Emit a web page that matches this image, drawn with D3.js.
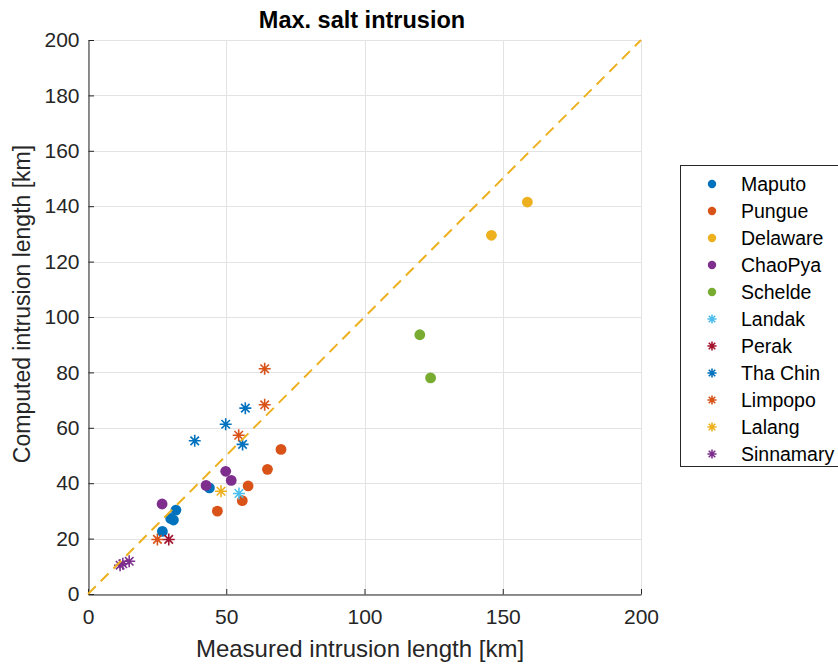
<!DOCTYPE html>
<html>
<head>
<meta charset="utf-8">
<script src="https://cdn.jsdelivr.net/npm/d3@7/dist/d3.min.js"></script>
<style>
  html, body { margin: 0; padding: 0; background: #fff; }
  svg { display: block; font-family: "Liberation Sans", Arial, Helvetica, sans-serif; }
</style>
</head>
<body>
<svg id="chart" width="838" height="664"></svg>
<script>
// Estuaries and their marker style
const estuaries = ["Maputo", "Pungue", "Delaware", "ChaoPya", "Schelde",
                   "Landak", "Perak", "Tha Chin", "Limpopo", "Lalang", "Sinnamary"];
const markers = ["dot", "dot", "dot", "dot", "dot",
                 "star", "star", "star", "star", "star", "star"];
const colors = ["#0072BD", "#D95319", "#EDB120", "#7E2F8E", "#77AC30",
                "#4DBEEE", "#A2142F", "#0072BD", "#D95319", "#EDB120", "#7E2F8E"];

// Measured vs computed maximum salt intrusion length [km]
const measured = [
  [43.9, 31.8, 29.9, 30.9, 26.9],     // Maputo
  [69.8, 64.9, 57.9, 55.8, 46.8],     // Pungue
  [145.9, 158.9],                     // Delaware
  [49.8, 51.8, 42.7, 26.8],           // ChaoPya
  [120.0, 123.9],                     // Schelde
  [54.6],                             // Landak
  [29.2],                             // Perak
  [38.6, 49.8, 56.9, 55.9],           // Tha Chin
  [63.9, 63.9, 54.5, 25.1],           // Limpopo
  [48.1],                             // Lalang
  [11.6, 12.6, 14.9]                  // Sinnamary
];
const computed = [
  [38.3, 30.3, 27.3, 26.7, 22.6],
  [52.2, 45.0, 39.0, 33.7, 29.9],
  [129.5, 141.5],
  [44.3, 41.0, 39.2, 32.5],
  [93.6, 78.0],
  [36.3],
  [19.7],
  [55.3, 61.3, 67.1, 54.0],
  [81.3, 68.3, 57.3, 19.7],
  [37.1],
  [10.4, 10.9, 11.8]
];

const xTicks = [0, 50, 100, 150, 200];
const yTicks = [0, 20, 40, 60, 80, 100, 120, 140, 160, 180, 200];
const domain = [0, 200];

const svg = d3.select("#chart");
const plot = { left: 88, right: 641, top: 40, bottom: 594 };

const x = d3.scaleLinear().domain(domain).range([plot.left, plot.right]);
const y = d3.scaleLinear().domain(domain).range([plot.bottom, plot.top]);

const axisColor = "#262626";
const gridColor = "#e3e3e3";

// Grid
const grid = svg.append("g");
grid.selectAll("line.vx").data(xTicks).join("line")
  .attr("x1", d => Math.round(x(d)) + 0.5).attr("x2", d => Math.round(x(d)) + 0.5)
  .attr("y1", plot.top).attr("y2", plot.bottom)
  .attr("stroke", gridColor).attr("stroke-width", 1);
grid.selectAll("line.hy").data(yTicks).join("line")
  .attr("y1", d => Math.round(y(d)) + 0.5).attr("y2", d => Math.round(y(d)) + 0.5)
  .attr("x1", plot.left).attr("x2", plot.right)
  .attr("stroke", gridColor).attr("stroke-width", 1);

// Axes with inward ticks
const xAxis = svg.append("g")
  .attr("transform", `translate(0,${plot.bottom + 0.5})`)
  .call(d3.axisBottom(x).tickValues(xTicks).tickSize(-5.5).tickSizeOuter(0).tickPadding(15));
const yAxis = svg.append("g")
  .attr("transform", `translate(${plot.left + 0.5},0)`)
  .call(d3.axisLeft(y).tickValues(yTicks).tickSize(-5.5).tickSizeOuter(0).tickPadding(9));

[xAxis, yAxis].forEach(a => {
  a.select(".domain").attr("stroke", axisColor).attr("stroke-width", 1);
  a.selectAll(".tick line").attr("stroke", axisColor).attr("stroke-width", 1);
  a.selectAll(".tick text").attr("fill", axisColor)
    .style("font-size", "21px").style("font-family", "'Liberation Sans', Arial, sans-serif");
});

// Marker drawing
function starPath(r) {
  const d = r * Math.SQRT1_2;
  return `M${-r},0L${r},0M0,${-r}L0,${r}M${-d},${-d}L${d},${d}M${-d},${d}L${d},${-d}`;
}
function drawMarker(g, kind, color, size) {
  if (kind === "dot") {
    g.append("circle").attr("r", size).attr("fill", color);
  } else {
    g.append("path").attr("d", starPath(size)).attr("fill", "none")
      .attr("stroke", color).attr("stroke-width", 1.6);
  }
}

// Data points
const points = svg.append("g");
estuaries.forEach((name, i) => {
  measured[i].forEach((mx, j) => {
    const g = points.append("g")
      .attr("transform", `translate(${x(mx)},${y(computed[i][j])})`);
    drawMarker(g, markers[i], colors[i], markers[i] === "dot" ? 5.4 : 6);
  });
});

// 1:1 reference line
svg.append("path")
  .datum(domain)
  .attr("d", d3.line().x(d => x(d)).y(d => y(d)))
  .attr("fill", "none")
  .attr("stroke", "#EDB120")
  .attr("stroke-width", 2)
  .attr("stroke-dasharray", "11,7");

// Title and axis labels
svg.append("text")
  .attr("x", 362).attr("y", 28)
  .attr("text-anchor", "middle")
  .style("font-size", "23.5px").style("font-weight", "bold")
  .attr("fill", "#000")
  .text("Max. salt intrusion");

svg.append("text")
  .attr("x", 360).attr("y", 657)
  .attr("text-anchor", "middle")
  .style("font-size", "24px")
  .attr("fill", axisColor)
  .text("Measured intrusion length [km]");

svg.append("text")
  .attr("transform", "translate(30,304) rotate(-90)")
  .attr("text-anchor", "middle")
  .style("font-size", "23px")
  .attr("fill", axisColor)
  .text("Computed intrusion length [km]");

// Legend
const legend = svg.append("g");
legend.append("rect")
  .attr("x", 680.5).attr("y", 165.5)
  .attr("width", 160).attr("height", 301)
  .attr("fill", "#fff").attr("stroke", axisColor).attr("stroke-width", 1);
estuaries.forEach((name, i) => {
  const cy = 184 + i * 27;
  const g = legend.append("g").attr("transform", `translate(712,${cy})`);
  drawMarker(g, markers[i], colors[i], markers[i] === "dot" ? 4.2 : 4.6);
  legend.append("text")
    .attr("x", 741).attr("y", cy + 7)
    .style("font-size", "19.5px")
    .attr("fill", "#000")
    .text(name);
});
</script>
</body>
</html>
